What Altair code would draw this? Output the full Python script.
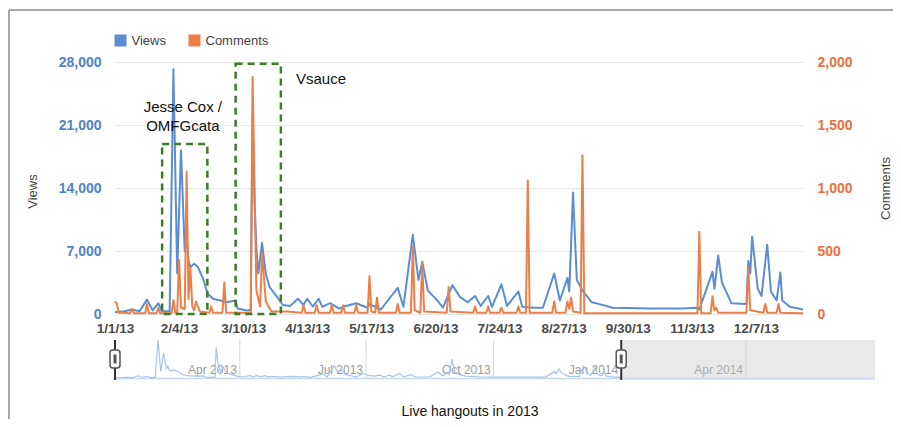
import altair as alt
import pandas as pd

# ---------------- data ----------------
START = pd.Timestamp("2013-01-01")

view_days = [0, 5, 9, 13, 17, 20, 23, 25, 29, 31, 33, 35, 37, 38, 39, 40, 42, 44, 47, 49,
             52, 56, 59, 64, 65, 70, 72, 73, 74, 75, 76, 78, 80, 82, 86, 89, 93, 97, 100, 102, 105,
             108, 110, 114, 119, 121, 128, 134, 135, 141, 150, 153, 158, 161, 163, 166, 171, 174, 179, 183, 187,
             191, 194, 198, 200, 205, 208, 214, 216, 222, 227, 233, 236, 240, 241, 243, 245, 248, 253, 257, 264,
             284, 301, 309, 310, 317, 318, 320, 322, 327, 335, 336, 337, 338, 341, 343, 346, 348, 351, 353, 354,
             358, 365]
view_values = [200, 300, 500, 300, 1600, 400, 1200, 300, 300, 27200, 4500, 18200, 7000, 8500, 6000, 5200, 5600, 5200, 3800, 2300,
               1700, 1500, 1300, 1500, 600, 400, 450, 22000, 12700, 7400, 4500, 7900, 4500, 3000, 1900, 1000, 900, 1700, 1000, 1700, 800,
               1700, 800, 1200, 600, 800, 1200, 700, 1100, 500, 2900, 800, 8800, 3800, 5800, 2600, 1500, 700, 3200, 1900, 1300,
               2000, 900, 2000, 800, 3300, 900, 2500, 800, 700, 700, 4500, 1500, 4000, 2500, 13500, 3800, 2600, 1300, 1100, 700,
               600, 600, 700, 500, 4700, 2800, 6500, 3500, 1200, 1100, 5900, 4500, 8600, 2800, 2000, 7700, 2500, 1500, 4600, 1500,
               800, 500]

comment_days = [0, 1, 2, 5, 8, 9, 10, 16, 17, 18, 22, 23, 24, 30, 31, 32, 33, 34, 35, 37,
                38, 39, 40, 41, 42, 43, 45, 50, 51, 52, 57, 58, 59, 72, 73, 75, 77, 78, 80, 83,
                91, 99, 100, 101, 106, 107, 108, 114, 115, 116, 120, 121, 122, 127, 128, 129, 134, 135, 136, 138,
                139, 140, 149, 150, 151, 157, 158, 159, 162, 163, 164, 176, 177, 178, 190, 191, 192, 197, 198, 199,
                204, 205, 206, 213, 214, 215, 218, 219, 220, 232, 233, 234, 239, 240, 241, 242, 243, 247, 248, 249,
                309, 310, 311, 316, 317, 318, 319, 320, 335, 336, 337, 344, 345, 346, 351, 352, 353, 365]
comment_values = [100, 80, 10, 10, 5, 40, 5, 5, 80, 5, 5, 50, 5, 5, 110, 10, 10, 430, 50, 40,
                  1130, 120, 370, 60, 30, 100, 20, 10, 60, 10, 10, 250, 10, 10, 1880, 190, 60, 490, 100, 20,
                  20, 10, 70, 10, 10, 70, 10, 10, 70, 10, 10, 70, 10, 10, 70, 10, 10, 300, 20, 10,
                  130, 10, 10, 80, 10, 10, 535, 30, 10, 400, 20, 10, 215, 20, 10, 60, 10, 10, 60, 10,
                  10, 50, 10, 10, 60, 10, 10, 1060, 10, 10, 100, 10, 10, 100, 40, 130, 20, 10, 1260, 5,
                  5, 650, 5, 5, 140, 30, 50, 10, 10, 375, 30, 10, 80, 10, 10, 80, 10, 5]

x_tick_days = [0, 34, 68, 102, 136, 170, 204, 238, 272, 306, 340]
views_ticks = [0, 7000, 14000, 21000, 28000]
comments_ticks = [0, 500, 1000, 1500, 2000]

box_start_days = [25, 64]
box_end_days = [49, 88]
box_top_views = [18900, 27800]

note_center_texts = ["Jesse Cox /", "OMFGcata"]
note_center_days = [36, 36]
note_center_views = [23000, 20900]
note_left_texts = ["Vsauce"]
note_left_days = [96]
note_left_views = [26100]

nav_month_dates = ["2013-04-01", "2013-07-01", "2013-10-01", "2014-01-01", "2014-04-01"]
nav_month_labels = ["Apr 2013", "Jul 2013", "Oct 2013", "Jan 2014", "Apr 2014"]
nav_handle_dates = ["2013-01-01", "2014-01-01"]
nav_shade = ["2014-01-01", "2014-07-03"]

series_names = ["Views", "Comments"]
series_colors = ["#5a8dd3", "#ec7f47"]

chart_title = "Live hangouts in 2013"


def day_str(n):
    return (START + pd.Timedelta(days=n)).strftime("%Y-%m-%d")


def dt(ts):
    ts = pd.Timestamp(ts)
    return alt.DateTime(year=ts.year, month=ts.month, date=ts.day, utc=True)


views_df = pd.DataFrame({"date": [day_str(d) for d in view_days], "value": view_values})
comments_df = pd.DataFrame({"date": [day_str(d) for d in comment_days], "value": comment_values})
box_df = pd.DataFrame({"start": [day_str(d) for d in box_start_days],
                       "end": [day_str(d) for d in box_end_days],
                       "top": box_top_views, "bottom": [0, 0]})
note_c_df = pd.DataFrame({"date": [day_str(d) for d in note_center_days], "value": note_center_views,
                          "text": note_center_texts})
note_l_df = pd.DataFrame({"date": [day_str(d) for d in note_left_days], "value": note_left_views,
                          "text": note_left_texts})
nav_month_df = pd.DataFrame({"date": nav_month_dates, "label": nav_month_labels,
                             "color": ["#9a9a9a", "#9a9a9a", "#9a9a9a", "#9a9a9a", "#ababab"]})
nav_handle_df = pd.DataFrame({"date": nav_handle_dates})
nav_shade_df = pd.DataFrame({"start": [nav_shade[0]], "end": [nav_shade[1]]})
nav_base_df = pd.DataFrame({"start": ["2013-01-01"], "end": [nav_shade[1]]})
legend_df = pd.DataFrame({"series": series_names})
one_df = pd.DataFrame({"text": [chart_title]})

MAIN_DOMAIN = [dt("2013-01-01"), dt("2014-01-01")]
NAV_DOMAIN = [dt("2013-01-01"), dt(nav_shade[1])]

W, H = 688, 252


def main_x(field, axis=None):
    return alt.X(field, type="temporal",
                 scale=alt.Scale(type="utc", domain=MAIN_DOMAIN, nice=False),
                 axis=axis, title=None)


def nav_x(field):
    return alt.X(field, type="temporal",
                 scale=alt.Scale(type="utc", domain=NAV_DOMAIN, range=[0, 760], nice=False),
                 axis=None, title=None)


def views_y(field, axis=None):
    return alt.Y(field, type="quantitative",
                 scale=alt.Scale(domain=[0, 28000], nice=False, zero=True),
                 axis=axis, title=None)


x_axis = alt.Axis(values=[dt(START + pd.Timedelta(days=d)) for d in x_tick_days],
                  labelExpr="utcFormat(datum.value, '%-m/%-d/%y')",
                  labelFlush=False, labelOverlap=False, ticks=False, domain=False, grid=False,
                  labelFontSize=13.5, labelColor="#4a4a4a", labelFontWeight="bold", labelPadding=7)

left_axis = alt.Axis(values=views_ticks, format=",.0f", orient="left", title="Views",
                     titleX=-83, titleY=129, titleAngle=270, titleAlign="center",
                     titleBaseline="middle", titleColor="#444444", titleFontSize=13,
                     titleFontWeight="normal", labelColor="#4f82ca", labelFontSize=14,
                     labelFontWeight="bold", labelPadding=14, ticks=False, domain=False,
                     grid=True, gridColor="#e6e6e6", gridWidth=1)

right_axis = alt.Axis(values=comments_ticks, format=",.0f", orient="right", title="Comments",
                      titleX=82, titleY=126, titleAngle=270, titleAlign="center",
                      titleBaseline="middle", titleColor="#444444", titleFontSize=13,
                      titleFontWeight="normal", labelColor="#e8703f", labelFontSize=14,
                      labelFontWeight="bold", labelPadding=14, ticks=False, domain=False,
                      grid=False)

views_line = alt.Chart(views_df).mark_line(color=series_colors[0], strokeWidth=2, strokeJoin="round").encode(
    x=main_x("date", x_axis), y=views_y("value", left_axis))

comments_line = alt.Chart(comments_df).mark_line(color=series_colors[1], strokeWidth=2, strokeJoin="round").encode(
    x=main_x("date"),
    y=alt.Y("value:Q", scale=alt.Scale(domain=[0, 2000], nice=False), axis=right_axis, title=None))

boxes = alt.Chart(box_df).mark_rect(filled=False, stroke="#3b7d24", strokeWidth=2.5,
                                    strokeDash=[7, 5]).encode(
    x=main_x("start"), x2="end", y=views_y("top"), y2="bottom")

notes_c = alt.Chart(note_c_df).mark_text(fontSize=15, color="#111111", baseline="middle", align="center").encode(
    x=main_x("date"), y=views_y("value"), text="text:N")
notes_l = alt.Chart(note_l_df).mark_text(fontSize=15, color="#111111", baseline="middle", align="left").encode(
    x=main_x("date"), y=views_y("value"), text="text:N")

# ---------------- range navigator ----------------
nav_shade_rect = alt.Chart(nav_shade_df).mark_rect(color="#e9e9e9").encode(
    x=nav_x("start"), x2="end", y=alt.value(278), y2=alt.value(318))

nav_grid = alt.Chart(nav_month_df).mark_rule(color="#d6d6d6", strokeWidth=1).encode(
    x=nav_x("date"), y=alt.value(278), y2=alt.value(316))

nav_labels = alt.Chart(nav_month_df).mark_text(fontSize=12, align="right", baseline="middle", dx=-3).encode(
    x=nav_x("date"), y=alt.value(308), text="label:N", color=alt.Color("color:N", scale=None))

nav_base = alt.Chart(nav_base_df).mark_rule(color="#c9d8ef", strokeWidth=1.5).encode(
    x=nav_x("start"), x2="end", y=alt.value(316.5))

nav_line = alt.Chart(views_df).mark_line(color="#a9c3ea", strokeWidth=1.2).encode(
    x=nav_x("date"),
    y=alt.Y("value:Q", scale=alt.Scale(domain=[0, 27200], range=[316, 278], nice=False), axis=None, title=None))

handle_rule = alt.Chart(nav_handle_df).mark_rule(color="#333333", strokeWidth=2).encode(
    x=nav_x("date"), y=alt.value(278), y2=alt.value(318))

PILL = ("M-0.2,-0.9 L0.2,-0.9 A0.3,0.3 0 0 1 0.5,-0.6 L0.5,0.6 A0.3,0.3 0 0 1 0.2,0.9 "
        "L-0.2,0.9 A0.3,0.3 0 0 1 -0.5,0.6 L-0.5,-0.6 A0.3,0.3 0 0 1 -0.2,-0.9 Z")
GRIP = "M-0.15,-0.45 L0.15,-0.45 L0.15,0.45 L-0.15,0.45 Z"

handle_pill = alt.Chart(nav_handle_df).mark_point(shape=PILL, size=400, filled=True, fill="white",
                                                  stroke="#555555", strokeWidth=1.5, opacity=1).encode(
    x=nav_x("date"), y=alt.value(297))

handle_grip = alt.Chart(nav_handle_df).mark_point(shape=GRIP, size=400, filled=True, fill="#555555",
                                                  strokeWidth=0, opacity=1).encode(
    x=nav_x("date"), y=alt.value(297))

# ---------------- legend, title, frame ----------------
legend_x = alt.X("series:N", scale=alt.Scale(type="point", domain=series_names, range=[5.5, 79.5],
                                             padding=0), axis=None, title=None)

legend_sq = alt.Chart(legend_df).mark_point(shape="square", size=144, filled=True, opacity=1).encode(
    x=legend_x, y=alt.value(-21.5),
    color=alt.Color("series:N", scale=alt.Scale(domain=series_names, range=series_colors), legend=None))

legend_txt = alt.Chart(legend_df).mark_text(fontSize=13, align="left", baseline="middle", dx=11,
                                            color="#444444").encode(
    x=legend_x, y=alt.value(-21), text="series:N")

title_txt = alt.Chart(one_df).mark_text(fontSize=14, color="#111111", align="center",
                                        baseline="middle").encode(
    x=alt.value(355), y=alt.value(350), text="text:N")

frame_left = alt.Chart(one_df).mark_rule(color="#8a8a8a", strokeWidth=1.5).encode(
    x=alt.value(-106), y=alt.value(-52), y2=alt.value(365))
frame_top = alt.Chart(one_df).mark_rule(color="#8a8a8a", strokeWidth=1.5).encode(
    x=alt.value(-106), x2=alt.value(786), y=alt.value(-52))

chart = alt.layer(
    views_line, comments_line, boxes, notes_c, notes_l,
    nav_shade_rect, nav_grid, nav_labels, nav_base, nav_line, handle_rule, handle_pill, handle_grip,
    legend_sq, legend_txt, title_txt, frame_left, frame_top,
).resolve_scale(
    x="independent", y="independent"
).properties(
    width=W, height=H,
    autosize=alt.AutoSizeParams(type="none"),
    padding={"left": 107, "top": 54, "right": 90, "bottom": 105},
).configure(
    font="Liberation Sans"
).configure_view(
    stroke=None
)

chart.save("out.html", embed_options={"renderer": "svg", "actions": False})
